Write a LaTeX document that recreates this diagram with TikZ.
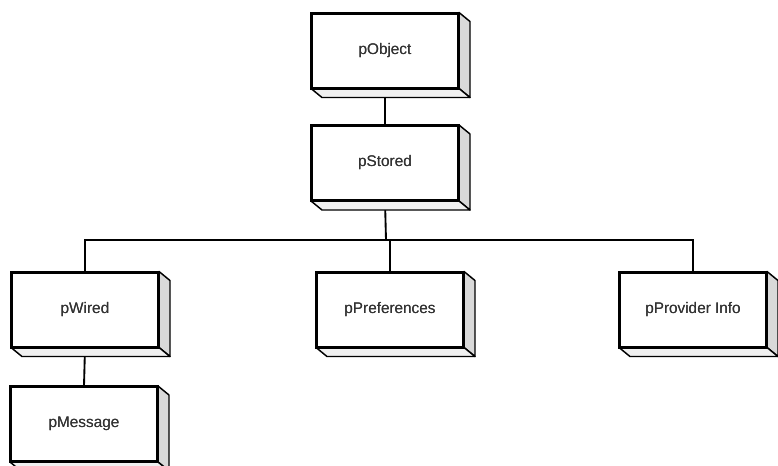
\documentclass[tikz,border=0pt]{standalone}
\usepackage{fontspec}
\setmainfont{Liberation Sans}
\usetikzlibrary{calc}
\tikzset{
  cls/.style={draw=black, line width=1.5pt, fill=white, minimum width=146*0.75pt, minimum height=74*0.75pt, inner sep=0pt, font=\fontsize{11.5}{13}\selectfont, text=black!80},
  wire/.style={draw=black, line width=1.4pt},
  depth/.style={draw=black, line width=1.1pt, line join=round}
}
\newcommand{\boxdepth}[1]{%
  \filldraw[depth, fill=gray!30] (#1.north east) -- ++(11,9) -- ($(#1.south east)+(11,9)$) -- (#1.south east) -- cycle;
  \filldraw[depth, fill=gray!12] (#1.south west) -- ++(11,9) -- ($(#1.south east)+(11,9)$) -- (#1.south east) -- cycle;
  \draw[line width=1.5pt] (#1.north west) rectangle (#1.south east);
}
\begin{document}
\begin{tikzpicture}[x=0.75pt, y=-0.75pt]
\useasboundingbox (0,0) rectangle (778,465);
\clip (0,0) rectangle (778,465);
\fill[white] (0,0) rectangle (778,465);
% nodes (front faces)
\node[cls] (pObject) at (385,50.5) {pObject};
\node[cls] (pStored) at (385,163) {pStored};
\node[cls] (pWired) at (85,309.5) {pWired};
\node[cls] (pPreferences) at (390,309.5) {pPreferences};
\node[cls] (pProvider) at (693,309.5) {pProvider Info};
\node[cls] (pMessage) at (84,424) {pMessage};
\coordinate (bus) at (386,240);
% connectors
\draw[wire] (pObject.south) -- (pStored.north);
\draw[wire] (pStored.south) -- (bus);
\draw[wire] (pWired.north) |- (bus) -| (pProvider.north);
\draw[wire] (pPreferences.north) -- (pPreferences.north |- bus);
\draw[wire] (pWired.south) -- (pMessage.north);
% 3D depth
\boxdepth{pObject}
\boxdepth{pStored}
\boxdepth{pWired}
\boxdepth{pPreferences}
\boxdepth{pProvider}
\boxdepth{pMessage}
% redraw labels on top
\node[font=\fontsize{11.5}{13}\selectfont, text=black!80] at (pObject) {pObject};
\node[font=\fontsize{11.5}{13}\selectfont, text=black!80] at (pStored) {pStored};
\node[font=\fontsize{11.5}{13}\selectfont, text=black!80] at (pWired) {pWired};
\node[font=\fontsize{11.5}{13}\selectfont, text=black!80] at (pPreferences) {pPreferences};
\node[font=\fontsize{11.5}{13}\selectfont, text=black!80] at (pProvider) {pProvider Info};
\node[font=\fontsize{11.5}{13}\selectfont, text=black!80] at (pMessage) {pMessage};
\end{tikzpicture}
\end{document}
